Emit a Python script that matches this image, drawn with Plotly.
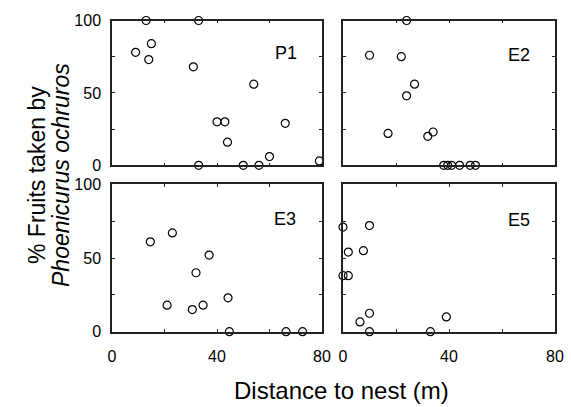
import plotly.graph_objects as go

# ---- data ----
p1_x = [13, 33, 9, 15, 14, 31, 54, 40, 43, 44, 66, 60, 79, 33, 50, 56]
p1_y = [100, 100, 78, 84, 73, 68, 56, 30, 30, 16, 29, 6, 3, 0, 0, 0]

e2_x = [24, 10, 22, 27, 24, 17, 34, 32, 38, 39.5, 41, 44, 48, 50]
e2_y = [100, 76, 75, 56, 48, 22, 23, 20, 0, 0, 0, 0, 0, 0]

e3_x = [14.6, 23, 37, 32, 21, 30.6, 34.7, 44.2, 44.7, 66.3, 72.6]
e3_y = [61, 67, 52, 40, 18, 15, 18, 23, 0, 0, 0]

e5_x = [0, 10, 2, 7.7, 0, 2, 10, 6.4, 39, 10, 33]
e5_y = [71, 72, 54, 55, 38, 38, 12.5, 6.6, 10, 0, 0]

panel_names = ["P1", "E2", "E3", "E5"]
x_tickvals = [0, 20, 40, 60, 80]
x_ticktext = ["0", "", "40", "", "80"]
y_tickvals = [0, 25, 50, 75, 100]
y_ticktext = ["0", "", "50", "", "100"]

W, H = 571, 407
FONT = "Liberation Sans, Arial, sans-serif"

# pixel boxes of the panels: (x0, x1, ytop, ybottom)
boxes = [
    (112, 322, 20.5, 165.3),
    (343, 555, 20.5, 165.3),
    (112, 322, 184.3, 331.7),
    (343, 555, 184.3, 331.7),
]
series = [(p1_x, p1_y), (e2_x, e2_y), (e3_x, e3_y), (e5_x, e5_y)]

fig = go.Figure()
layout = dict(
    width=W, height=H,
    margin=dict(l=0, r=0, t=0, b=0),
    paper_bgcolor="white", plot_bgcolor="white",
    showlegend=False,
    font=dict(family=FONT, color="black", size=16),
)
annotations = []
for i, ((x0, x1, yt, yb), (xs, ys), name) in enumerate(zip(boxes, series, panel_names)):
    k = "" if i == 0 else str(i + 1)
    fig.add_trace(go.Scatter(
        x=xs, y=ys, mode="markers", xaxis="x" + k, yaxis="y" + k,
        cliponaxis=False,
        marker=dict(symbol="circle-open", size=8, color="black",
                    line=dict(width=1.2, color="black")),
    ))
    bottom = i >= 2
    left = i % 2 == 0
    layout["xaxis" + k] = dict(
        domain=[x0 / W, x1 / W], anchor="y" + k, range=[0, 80],
        showgrid=False, zeroline=False, showline=True, mirror="allticks",
        linecolor="#222", linewidth=1.5,
        ticks="inside", ticklen=3, tickcolor="#222",
        tickvals=x_tickvals, ticktext=x_ticktext,
        showticklabels=bottom, ticklabelstandoff=9,
        tickfont=dict(size=16, family=FONT), automargin=False,
    )
    layout["yaxis" + k] = dict(
        domain=[1 - yb / H, 1 - yt / H], anchor="x" + k, range=[0, 100],
        showgrid=False, zeroline=False, showline=True, mirror="allticks",
        linecolor="#222", linewidth=1.5,
        ticks="inside", ticklen=3, tickcolor="#222",
        tickvals=y_tickvals, ticktext=y_ticktext,
        showticklabels=left, ticklabelstandoff=6,
        tickfont=dict(size=16, family=FONT), automargin=False,
    )

label_pos = [(286, 53.5), (519, 54.5), (285, 219), (519, 219.5)]
for name, (lx, ly) in zip(panel_names, label_pos):
    annotations.append(dict(
        text=name, x=lx / W, y=1 - ly / H, xref="paper", yref="paper",
        showarrow=False, font=dict(size=18, family=FONT),
        xanchor="center", yanchor="middle",
    ))

# y-axis title: two lines, as in the reference
for txt, cx in [("% Fruits taken by", 37), ("<i>Phoenicurus ochruros</i>", 61)]:
    annotations.append(dict(
        text=txt, x=cx / W, y=1 - 175 / H, xref="paper", yref="paper",
        showarrow=False, textangle=-90, font=dict(size=23, family=FONT),
        xanchor="center", yanchor="middle",
    ))
annotations.append(dict(
    text="Distance to nest (m)",
    x=341 / W, y=1 - 390 / H, xref="paper", yref="paper",
    showarrow=False, font=dict(size=24, family=FONT),
    xanchor="center", yanchor="middle",
))
layout["annotations"] = annotations
fig.update_layout(**layout)
fig.write_html(
    "out.html",
    config={"displayModeBar": False},
    post_script="document.body.style.margin='0';document.body.style.overflow='hidden';",
)
